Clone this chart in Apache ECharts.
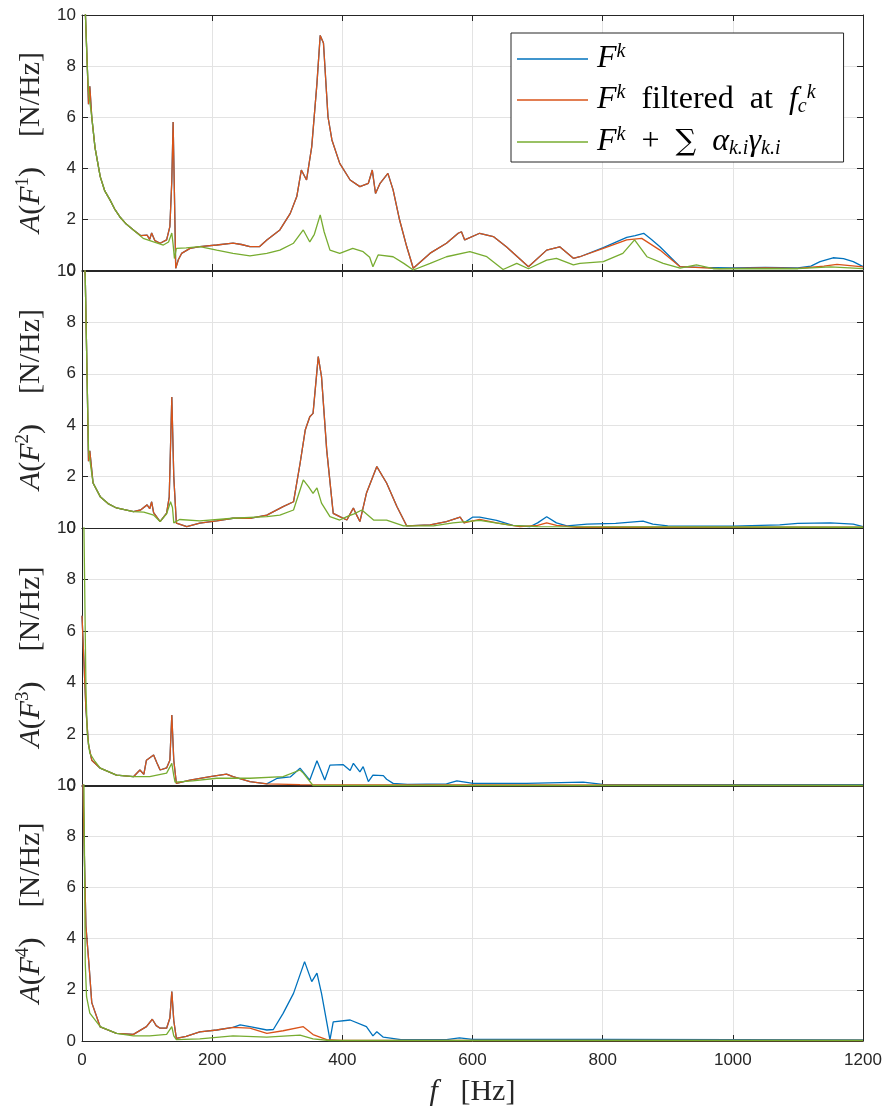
<!DOCTYPE html>
<html>
<head>
<meta charset="utf-8">
<script src="https://cdn.jsdelivr.net/npm/echarts@6/dist/echarts.min.js"></script>
<style>
html, body { margin: 0; padding: 0; background: #fff; }
#main { width: 890px; height: 1113px; }
</style>
</head>
<body>
<div id="main"></div>
<script>
// x ticks (Hz) and y ticks (N/Hz)
var freqTicks = [0, 200, 400, 600, 800, 1000, 1200];
var ampTicks = [0, 2, 4, 6, 8, 10];

// ---- F^1 ----
var p1Filt = [[0,12],[3,11],[5,10.2],[8,8.1],[10,6.5],[12,7.2],[15,6.0],[20,4.8],[28,3.66],[35,3.1],[43,2.75],[50,2.4],[58,2.09],[68,1.8],[79,1.57],[90,1.35],[100,1.37],[104,1.2],[107,1.45],[112,1.15],[120,1.05],[130,1.18],[135,1.7],[138,3.5],[140,5.8],[142,3.0],[144,0.07],[148,0.4],[153,0.65],[166,0.85],[181,0.92],[207,0.98],[232,1.05],[245,1.0],[258,0.92],[273,0.92],[284,1.18],[304,1.57],[320,2.22],[330,2.88],[337,3.92],[345,3.53],[353,4.84],[361,7.32],[366,9.2],[371,8.9],[378,6.0],[384,5.1],[396,4.18],[412,3.53],[427,3.27],[440,3.4],[446,3.92],[451,3.0],[458,3.4],[470,3.79],[478,3.14],[488,1.96],[499,0.91],[509,0.07],[535,0.66],[560,1.05],[578,1.44],[583,1.5],[588,1.18],[611,1.44],[632,1.31],[652,0.91],[686,0.13],[714,0.78],[734,0.91],[755,0.46],[765,0.52],[801,0.85],[837,1.18],[860,1.24],[888,0.78],[919,0.13],[980,0.05],[1050,0.08],[1100,0.06],[1140,0.15],[1160,0.22],[1200,0.12]];
var p1RawTail = [[801,0.88],[837,1.28],[850,1.35],[863,1.44],[875,1.2],[888,0.91],[919,0.13],[950,0.1],[1000,0.08],[1050,0.1],[1100,0.08],[1120,0.15],[1134,0.33],[1154,0.48],[1170,0.45],[1185,0.33],[1200,0.13]];
var p1Sum = [[0,12],[3,11],[5,10.2],[8,8.0],[10,7.0],[15,6.0],[20,4.8],[28,3.66],[35,3.1],[43,2.75],[50,2.4],[58,2.09],[68,1.8],[79,1.57],[94,1.24],[110,1.1],[125,0.98],[133,1.1],[138,1.45],[140,1.0],[142,0.45],[145,0.85],[160,0.87],[181,0.92],[207,0.78],[232,0.65],[258,0.55],[284,0.65],[304,0.78],[325,1.05],[340,1.57],[350,1.1],[357,1.4],[366,2.16],[372,1.5],[381,0.78],[396,0.65],[416,0.85],[432,0.72],[442,0.5],[447,0.13],[455,0.59],[478,0.52],[495,0.25],[509,0.0],[535,0.26],[560,0.52],[596,0.72],[622,0.52],[647,0.02],[668,0.26],[686,0.05],[714,0.39],[729,0.46],[755,0.2],[765,0.26],[801,0.33],[831,0.65],[849,1.18],[868,0.52],[893,0.26],[919,0.07],[944,0.2],[970,0.05],[1100,0.05],[1150,0.12],[1200,0.05]];

// ---- F^2 ----
var p2Filt = [[0,12],[3,11],[5,9.75],[8,5.63],[10,2.6],[12,3.0],[17,1.75],[28,1.22],[40,0.95],[53,0.78],[79,0.64],[90,0.7],[100,0.9],[104,0.75],[107,1.02],[110,0.6],[120,0.25],[130,0.58],[134,1.2],[138,5.1],[141,2.0],[145,0.19],[161,0.05],[181,0.19],[207,0.28],[232,0.38],[260,0.38],[284,0.5],[309,0.83],[325,1.02],[335,2.5],[343,3.81],[350,4.33],[355,4.46],[363,6.67],[368,5.89],[376,3.03],[386,0.57],[396,0.44],[407,0.31],[412,0.55],[417,0.78],[422,0.5],[427,0.25],[437,1.35],[453,2.39],[468,1.75],[484,0.83],[499,0.08],[535,0.12],[560,0.25],[581,0.42],[587,0.2],[611,0.34],[637,0.2],[673,0.05],[700,0.1],[714,0.2],[729,0.1],[760,0.03],[1200,0.03]];
var p2RawTail = [[600,0.42],[611,0.42],[637,0.3],[662,0.1],[688,0.05],[700,0.2],[714,0.44],[729,0.2],[745,0.08],[776,0.15],[820,0.18],[862,0.27],[877,0.15],[900,0.08],[1000,0.07],[1072,0.12],[1100,0.18],[1150,0.2],[1185,0.15],[1200,0.05]];
var p2Sum = [[0,12],[3,11],[5,9.75],[8,5.63],[10,3.03],[17,1.75],[28,1.22],[40,0.95],[53,0.78],[79,0.64],[95,0.62],[104,0.55],[110,0.5],[120,0.25],[130,0.55],[136,1.02],[139,0.8],[141,0.2],[150,0.33],[181,0.28],[232,0.38],[284,0.44],[304,0.5],[325,0.7],[340,1.87],[348,1.61],[355,1.35],[361,1.56],[368,0.97],[381,0.44],[396,0.31],[407,0.44],[418,0.55],[430,0.7],[448,0.31],[468,0.31],[494,0.08],[540,0.08],[570,0.2],[611,0.3],[660,0.1],[700,0.05],[1200,0.03]];

// ---- F^3 ----
var p3Filt = [[0,6.6],[3,6.56],[6,3.0],[10,1.6],[15,1.0],[28,0.69],[53,0.42],[79,0.36],[89,0.62],[95,0.45],[99,1.0],[110,1.2],[115,0.9],[120,0.62],[130,0.7],[135,1.0],[138,2.75],[141,1.0],[145,0.1],[166,0.23],[197,0.36],[222,0.46],[232,0.36],[258,0.17],[284,0.08],[335,0.05],[1200,0.02]];
var p3RawTail = [[300,0.3],[320,0.35],[335,0.69],[350,0.23],[361,0.98],[373,0.23],[381,0.81],[401,0.83],[412,0.6],[417,0.88],[427,0.55],[432,0.75],[440,0.17],[447,0.42],[463,0.4],[468,0.26],[478,0.1],[500,0.06],[560,0.08],[576,0.2],[601,0.1],[683,0.1],[770,0.15],[800,0.06],[1200,0.05]];
var p3Sum = [[0,12],[3,10],[6,3.87],[8,2.04],[12,1.27],[20,0.95],[28,0.69],[53,0.42],[79,0.36],[104,0.36],[130,0.5],[138,0.88],[141,0.4],[143,0.15],[170,0.2],[207,0.3],[258,0.3],[309,0.36],[335,0.62],[340,0.5],[355,0.02],[1200,0.02]];

// ---- F^4 ----
var p4Filt = [[0,12],[3,8],[6,4.5],[8,4.46],[11,2.9],[15,1.5],[28,0.55],[53,0.3],[79,0.26],[99,0.56],[108,0.85],[114,0.6],[120,0.5],[130,0.5],[135,0.9],[138,1.93],[141,0.8],[145,0.1],[160,0.18],[181,0.36],[207,0.43],[232,0.53],[258,0.5],[284,0.3],[309,0.4],[340,0.56],[355,0.25],[376,0.05],[400,0.02],[1200,0.02]];
var p4RawTail = [[243,0.63],[260,0.55],[284,0.43],[294,0.45],[309,1.08],[325,1.86],[342,3.1],[353,2.32],[361,2.65],[368,1.86],[381,0.04],[386,0.75],[412,0.82],[437,0.56],[447,0.2],[453,0.36],[463,0.15],[490,0.05],[560,0.05],[580,0.12],[600,0.06],[800,0.06],[1200,0.04]];
var p4Sum = [[0,12],[3,10],[5,3.05],[7,1.73],[12,1.09],[28,0.56],[53,0.3],[79,0.2],[104,0.2],[130,0.26],[138,0.56],[141,0.2],[145,0.05],[181,0.08],[232,0.2],[284,0.15],[335,0.23],[355,0.08],[380,0.02],[1200,0.02]];

// raw spectrum = filtered one below the cut, then its own tail
function joinRaw(filt, tail){
    var start = tail[0][0];
    return filt.filter(function(p){ return p[0] < start; }).concat(tail);
}

var panels = [
    { sup: '1', raw: joinRaw(p1Filt, p1RawTail), filt: p1Filt, sum: p1Sum },
    { sup: '2', raw: joinRaw(p2Filt, p2RawTail), filt: p2Filt, sum: p2Sum },
    { sup: '3', raw: joinRaw(p3Filt, p3RawTail), filt: p3Filt, sum: p3Sum },
    { sup: '4', raw: joinRaw(p4Filt, p4RawTail), filt: p4Filt, sum: p4Sum }
];

var tops = [15, 271, 528, 785];
var heights = [255, 257, 258, 256];
var colBlue = '#0072BD', colOrange = '#D95319', colGreen = '#77AC30';
var axisCol = '#262626';
var serif = '"Liberation Serif", "DejaVu Serif", serif';
var sans = '"Liberation Sans", Arial, sans-serif';

var grids = [], xAxes = [], yAxes = [], series = [];

for (var i = 0; i < 4; i++) {
    grids.push({ left: 82, right: 27, top: tops[i], height: heights[i], containLabel: false });
    var last = (i == 3);
    // bottom x axis
    xAxes.push({
        type: 'value', gridIndex: i, position: 'bottom', min: 0, max: 1200, interval: 200,
        axisLine: { show: true, onZero: false, lineStyle: { color: axisCol, width: 1 } },
        axisTick: { show: true, inside: true, length: 6, lineStyle: { color: axisCol } },
        axisLabel: { show: last, margin: 11, color: axisCol, fontSize: 17, fontFamily: sans,
            formatter: function(v){ return freqTicks.indexOf(v) >= 0 ? String(v) : ''; } },
        splitLine: { show: true, lineStyle: { color: '#e3e3e3', width: 1 } },
        name: last ? '{i|f}{r|   [Hz]}' : '',
        nameLocation: 'middle', nameGap: 36,
        nameTextStyle: { rich: {
            i: { fontFamily: serif, fontStyle: 'italic', fontSize: 30, color: axisCol },
            r: { fontFamily: serif, fontSize: 30, color: axisCol } } }
    });
    // top x axis (box + ticks)
    xAxes.push({
        type: 'value', gridIndex: i, position: 'top', min: 0, max: 1200, interval: 200,
        axisLine: { show: true, onZero: false, lineStyle: { color: axisCol, width: 1 } },
        axisTick: { show: true, inside: true, length: 6, lineStyle: { color: axisCol } },
        axisLabel: { show: false }, splitLine: { show: false }
    });
    // left y axis
    yAxes.push({
        type: 'value', gridIndex: i, position: 'left', min: 0, max: 10, interval: 2,
        axisLine: { show: true, onZero: false, lineStyle: { color: axisCol, width: 1 } },
        axisTick: { show: true, inside: true, length: 6, lineStyle: { color: axisCol } },
        axisLabel: { show: true, margin: 6, color: axisCol, fontSize: 17, fontFamily: sans,
            formatter: function(v){ return ampTicks.indexOf(v) >= 0 ? String(v) : ''; } },
        splitLine: { show: true, lineStyle: { color: '#e3e3e3', width: 1 } },
        name: '{i|A}{r|(}{i|F}{s|' + panels[i].sup + '}{r|)    [N/Hz]}',
        nameLocation: 'middle', nameGap: 34,
        nameTextStyle: { rich: {
            i: { fontFamily: serif, fontStyle: 'italic', fontSize: 30, lineHeight: 34, color: axisCol },
            r: { fontFamily: serif, fontSize: 30, lineHeight: 34, color: axisCol },
            s: { fontFamily: serif, fontSize: 19, lineHeight: 19, verticalAlign: 'top', color: axisCol } } }
    });
    // right y axis (box + ticks)
    yAxes.push({
        type: 'value', gridIndex: i, position: 'right', min: 0, max: 10, interval: 2,
        axisLine: { show: true, onZero: false, lineStyle: { color: axisCol, width: 1 } },
        axisTick: { show: true, inside: true, length: 6, lineStyle: { color: axisCol } },
        axisLabel: { show: false }, splitLine: { show: false }
    });

    var data = [['raw', panels[i].raw, colBlue], ['filtered', panels[i].filt, colOrange], ['sum', panels[i].sum, colGreen]];
    for (var j = 0; j < data.length; j++) {
        series.push({
            name: data[j][0], type: 'line', xAxisIndex: 2 * i, yAxisIndex: 2 * i,
            data: data[j][1], symbol: 'none', showSymbol: false, clip: true,
            color: data[j][2],
            lineStyle: { color: data[j][2], width: 1.3 }
        });
    }
}

var legendText = {
    raw: '{g| }{i|F}{sup|k}',
    filtered: '{g| }{i|F}{sup|k}{r|  filtered  at  }{i|f}{sub|c}{sup|k}',
    sum: '{g| }{i|F}{sup|k}{r|  +  }{big|∑}{r|  }{i|α}{sub|k.i}{i|γ}{sub|k.i}'
};

var chart = echarts.init(document.getElementById('main'));
chart.setOption({
    backgroundColor: '#fff',
    animation: false,
    grid: grids,
    xAxis: xAxes,
    yAxis: yAxes,
    legend: {
        data: ['raw', 'filtered', 'sum'],
        orient: 'vertical', left: 511, top: 33,
        icon: 'rect', itemWidth: 71, itemHeight: 1.4, itemGap: 8,
        padding: [9, 28, 3, 6],
        backgroundColor: '#fff', borderColor: axisCol, borderWidth: 1, borderRadius: 0,
        formatter: function(name){ return legendText[name]; },
        textStyle: {
            rich: {
                g: { width: 4, fontSize: 10 },
                i: { fontFamily: serif, fontStyle: 'italic', fontSize: 32, lineHeight: 34, color: '#000' },
                r: { fontFamily: serif, fontSize: 32, lineHeight: 34, color: '#000' },
                big: { fontFamily: '"DejaVu Serif", serif', fontSize: 29, lineHeight: 34, color: '#000' },
                sup: { fontFamily: serif, fontStyle: 'italic', fontSize: 20, lineHeight: 19, verticalAlign: 'top', color: '#000' },
                sub: { fontFamily: serif, fontStyle: 'italic', fontSize: 20, lineHeight: 19, verticalAlign: 'bottom', color: '#000' }
            }
        }
    },
    series: series
});
</script>
</body>
</html>
